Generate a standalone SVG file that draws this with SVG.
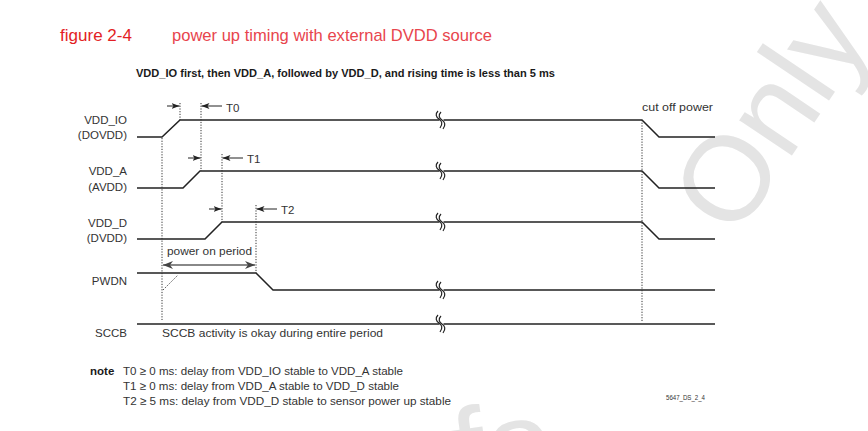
<svg xmlns="http://www.w3.org/2000/svg" width="868" height="431" viewBox="0 0 868 431">
<defs>
<style>
.t{font-family:"Liberation Sans",Arial,sans-serif;fill:#333;font-size:11.5px}
.lb{text-anchor:end}
.sig{fill:none;stroke:#222;stroke-width:1.5}
.dot{fill:none;stroke:#333;stroke-width:1;stroke-dasharray:1.2 1.5}
.arr{fill:none;stroke:#222;stroke-width:1}
.brk{fill:none;stroke:#222;stroke-width:1.2}
.wm{font-family:"Liberation Sans",Arial,sans-serif;fill:#e4e4e4}
</style>
<marker id="ah" viewBox="0 0 8 6" refX="8" refY="3" markerWidth="8" markerHeight="6" markerUnits="userSpaceOnUse" orient="auto">
<path d="M0,0 L8,3 L0,6 L2,3 Z" fill="#222"/>
</marker>
<marker id="gh" viewBox="0 0 10 8" refX="10" refY="4" markerWidth="10" markerHeight="8" markerUnits="userSpaceOnUse" orient="auto-start-reverse">
<path d="M0,0 L10,4 L0,8 L3,4 Z" fill="#444"/>
</marker>
<g id="brkmark">
<rect x="-2.5" y="-2" width="4" height="4" fill="#fff"/>
<path class="brk" d="M-4,-9 C-7,-6 -6,-3 -3,-1 C0,1 1,4 -2,8"/>
<path class="brk" d="M-1,-8 C-4,-5 -3,-2 0,0 C3,2 4,5 1,9"/>
</g>
</defs>
<rect width="868" height="431" fill="#fff"/>

<!-- watermark -->
<text class="wm" x="0" y="0" font-size="120" transform="translate(735,240) rotate(-56)">Only</text>
<text class="wm" x="0" y="0" font-size="120" transform="translate(458,494) rotate(-8)">fo</text>

<!-- title -->
<g id="title">
<text x="60" y="41" font-family="'Liberation Sans',Arial,sans-serif" font-size="17" fill="#e31e24" textLength="72" lengthAdjust="spacingAndGlyphs">figure 2-4</text>
<text x="172" y="41" font-family="'Liberation Sans',Arial,sans-serif" font-size="17" fill="#e8454d" textLength="320" lengthAdjust="spacingAndGlyphs">power up timing with external DVDD source</text>
<text x="136" y="77" font-family="'Liberation Sans',Arial,sans-serif" font-size="11.5" font-weight="bold" fill="#1a1a1a" textLength="419" lengthAdjust="spacingAndGlyphs">VDD_IO first, then VDD_A, followed by VDD_D, and rising time is less than 5 ms</text>
</g>

<!-- labels -->
<g id="labels">
<text class="t lb" x="127" y="124">VDD_IO</text>
<text class="t lb" x="127" y="139">(DOVDD)</text>
<text class="t lb" x="127" y="175">VDD_A</text>
<text class="t lb" x="127" y="191">(AVDD)</text>
<text class="t lb" x="127" y="227">VDD_D</text>
<text class="t lb" x="127" y="242">(DVDD)</text>
<text class="t lb" x="127" y="285">PWDN</text>
<text class="t lb" x="127" y="337">SCCB</text>
</g>

<!-- signals -->
<g id="sig-vddio">
<path class="sig" d="M137,137 L162,137 L180,120 L642,120 L659,137 L715,137"/>
<use href="#brkmark" x="442" y="120"/>
</g>
<g id="sig-vdda">
<path class="sig" d="M137,188 L183,188 L200,171 L642,171 L659,188 L715,188"/>
<use href="#brkmark" x="442" y="171"/>
</g>
<g id="sig-vddd">
<path class="sig" d="M137,239 L205,239 L222,222 L642,222 L659,239 L715,239"/>
<use href="#brkmark" x="442" y="222"/>
</g>
<g id="sig-pwdn">
<path class="sig" d="M137,273 L256,273 L273,290 L715,290"/>
<use href="#brkmark" x="442" y="290"/>
</g>
<g id="sig-sccb">
<path class="sig" d="M137,324 L715,324"/>
<use href="#brkmark" x="442" y="324"/>
<text class="t" x="162" y="337" textLength="221" lengthAdjust="spacingAndGlyphs">SCCB activity is okay during entire period</text>
</g>

<!-- connectors: timing markers -->
<g id="connectors">
<path class="dot" d="M162,138 V320"/>
<path class="dot" d="M163,290 L178,275"/>
<path class="dot" d="M180,103 V120"/>
<path class="dot" d="M201,103 V171"/>
<path class="dot" d="M222,154 V222"/>
<path class="dot" d="M256,205 V273"/>
<path class="dot" d="M642,120 V322"/>

<line class="arr" x1="167" y1="106" x2="179.5" y2="106" marker-end="url(#ah)"/>
<line class="arr" x1="222" y1="106" x2="201.5" y2="106" marker-end="url(#ah)"/>
<line class="arr" x1="188" y1="158" x2="200.5" y2="158" marker-end="url(#ah)"/>
<line class="arr" x1="243" y1="158" x2="222.5" y2="158" marker-end="url(#ah)"/>
<line class="arr" x1="209" y1="209" x2="221.5" y2="209" marker-end="url(#ah)"/>
<line class="arr" x1="277" y1="209" x2="256.5" y2="209" marker-end="url(#ah)"/>
<line x1="163" y1="265" x2="255" y2="265" stroke="#888" stroke-width="2.2" marker-start="url(#gh)" marker-end="url(#gh)"/>
</g>

<g id="marker-labels">
<text class="t" x="226" y="112" font-size="12">T0</text>
<text class="t" x="247" y="163" font-size="12">T1</text>
<text class="t" x="281" y="214" font-size="12">T2</text>
<text class="t" x="167" y="255" textLength="85" lengthAdjust="spacingAndGlyphs">power on period</text>
<text class="t" x="642" y="111" textLength="71" lengthAdjust="spacingAndGlyphs">cut off power</text>
</g>

<!-- notes -->
<g id="notes">
<text x="90" y="375" font-family="'Liberation Sans',Arial,sans-serif" font-size="11.5" font-weight="bold" fill="#1a1a1a">note</text>
<text class="t" x="123" y="375" textLength="280" lengthAdjust="spacingAndGlyphs">T0 ≥ 0 ms: delay from VDD_IO stable to VDD_A stable</text>
<text class="t" x="123" y="390" textLength="276" lengthAdjust="spacingAndGlyphs">T1 ≥ 0 ms: delay from VDD_A stable to VDD_D stable</text>
<text class="t" x="123" y="405" textLength="328" lengthAdjust="spacingAndGlyphs">T2 ≥ 5 ms: delay from VDD_D stable to sensor power up stable</text>
<text x="666" y="400" font-family="'Liberation Sans',Arial,sans-serif" font-size="7" fill="#333" textLength="39" lengthAdjust="spacingAndGlyphs">5647_DS_2_4</text>
</g>
</svg>
